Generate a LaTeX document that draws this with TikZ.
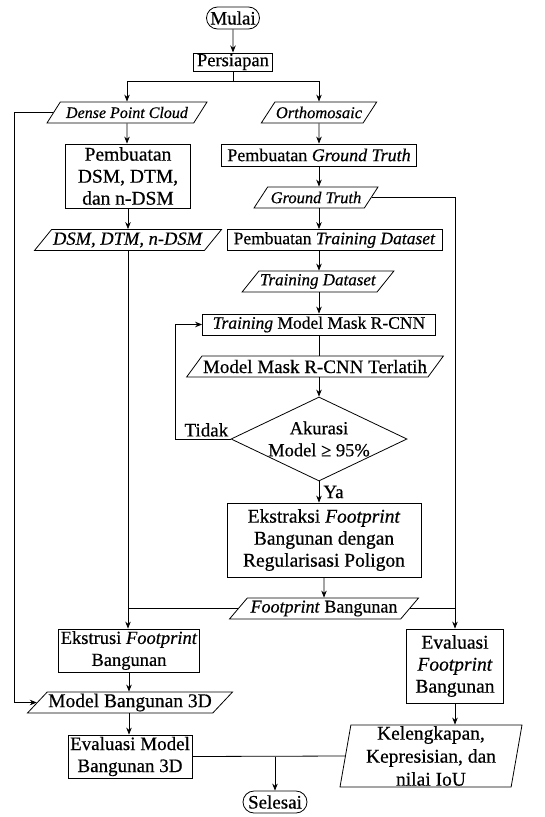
\documentclass[tikz,border=0pt]{standalone}
\usepackage{fontspec}
\setmainfont{Liberation Serif}[FakeBold=0.5]
\usetikzlibrary{arrows.meta, positioning, shapes.geometric, shapes.misc}

\begin{document}
\begin{tikzpicture}[
	x=1pt, y=-1pt,
	font=\fontsize{17}{21}\selectfont,
	line width=0.8pt,
	fs/.style = {font=\fontsize{#1}{22}\selectfont},
	box/.style = {draw, align=center, inner xsep=2pt, inner ysep=1pt, minimum height=21pt},
	io/.style = {draw, trapezium, trapezium left angle=45, trapezium right angle=135,
		trapezium stretches body, align=center, inner xsep=1pt, inner ysep=1pt, minimum height=21pt},
	term/.style = {draw, rounded rectangle, inner xsep=2pt, inner ysep=1pt, minimum height=22pt},
	cek/.style = {draw, diamond, aspect=2.1, inner sep=0pt, align=center,
		minimum width=176pt, minimum height=84pt},
	arr/.style = {-{Stealth[length=7pt,width=5.5pt]}}
     ]
		\useasboundingbox (0,0) rectangle (544,817);
		\coordinate (lx) at (14,0);
%
		\node[term, fs=19, minimum width=57pt] (mulai) at (233,18) {Mulai};
		\node[box, fs=18.5, minimum width=79pt, minimum height=17pt] (siap) at (233,62) {Persiapan};
		\node[io, fs=16, minimum width=160pt] (dpc) at (127,112.5) {\textit{Dense Point Cloud}};
		\node[io, fs=16.5, minimum width=101pt] (ortho) at (319,112.5) {\textit{Orthomosaic}};
%
		\node[box, fs=19.5, minimum width=125pt, minimum height=64pt] (dsm) at (128,176)
			{Pembuatan\\DSM, DTM,\\dan n-DSM};
		\node[io, fs=18.5, minimum width=187pt] (dsmio) at (128,240) {\textit{DSM, DTM, n-DSM}};
%
		\node[box, fs=18, minimum width=195pt, minimum height=22pt] (gtbox) at (319,155)
			{Pembuatan \textit{Ground Truth}};
		\node[io, fs=16.5, minimum width=124pt] (gt) at (316,197.5) {\textit{Ground Truth}};
		\node[box, fs=17.5, minimum width=215pt] (tdbox) at (334.5,240)
			{Pembuatan \textit{Training Dataset}};
		\node[io, minimum width=140pt] (td) at (318,281.5) {\textit{Training Dataset}};
		\node[box, fs=17.5, minimum width=233pt] (train) at (319,324.5)
			{\textit{Training} Model Mask R-CNN};
		\node[io, fs=19, minimum width=254pt] (model) at (315,366.5) {Model Mask R-CNN Terlatih};
		\node[cek, fs=18.5] (akurasi) at (319,439) {Akurasi\\Model ≥ 95\%};
		\node[box, fs=19.5, minimum width=194pt, minimum height=74pt] (ekstr) at (324,540)
			{Ekstraksi \textit{Footprint}\\Bangunan dengan\\Regularisasi Poligon};
		\node[io, fs=18, minimum width=189pt] (fp) at (324,608.5) {\textit{Footprint} Bangunan};
%
		\node[box, fs=18.5, minimum width=141pt, minimum height=43pt] (ekstru) at (129,650.5)
			{Ekstrusi \textit{Footprint}\\Bangunan};
		\node[box, fs=19.5, minimum width=97pt, minimum height=74pt] (evfp) at (455,666)
			{Evaluasi\\\textit{Footprint}\\Bangunan};
		\node[io, fs=19.5, minimum width=204pt] (m3d) at (130,702.5) {Model Bangunan 3D};
		\node[box, fs=19, minimum width=124pt, minimum height=43pt] (evm) at (130,756.5)
			{Evaluasi Model\\Bangunan 3D};
		\node[io, font=\fontsize{19.5}{23}\selectfont, trapezium left angle=80,
			trapezium right angle=100, minimum width=182pt, minimum height=62pt] (kel) at (431,756)
			{Kelengkapan,\\Kepresisian, dan\\nilai IoU};
		\node[term, fs=19, minimum width=68pt] (selesai) at (275,802) {Selesai};
%
		\draw[arr] (mulai) -- (siap);
		\draw[arr] (siap.south) -- ++(0,10) -| (dpc.north);
		\draw[arr] (siap.south) -- ++(0,10) -| (ortho.north);
%
		\draw[arr] (dpc) -- (dsm.north -| dpc.south);
		\draw[arr] (dsm) -- (dsmio);
		\draw[arr] (dpc.west) -- (dpc.west -| lx) |- (m3d.west);
%
		\draw[arr] (ortho) -- (gtbox);
		\draw[arr] (gtbox.south) -- (gtbox.south |- gt.north);
		\draw[arr] (gtbox.south |- gt.south) -- (gtbox.south |- tdbox.north);
		\draw[arr] (gtbox.south |- tdbox.south) -- (gtbox.south |- td.north);
		\draw[arr] (gtbox.south |- td.south) -- (train.north);
		\draw (train.south) -- (train.south |- model.north);
		\draw[arr] (train.south |- model.south) -- (akurasi.north);
		\draw[arr] (akurasi.west) -- ++(-55,0)
			node[pos=0, above left, inner sep=2pt, fs=19] {Tidak} |- (train.west);
		\draw[arr] (akurasi.south) -- (akurasi.south |- ekstr.north)
			node[midway, right, inner sep=4pt, fs=19] {Ya};
		\draw[arr] (ekstr) -- (fp);
%
		\draw[arr] (dsmio.south) -- (dsmio.south |- ekstru.north);
		\draw (fp.west) -- (fp.west -| dsmio.south);
		\draw[arr] (gt.east) -| (evfp.north);
		\draw (fp.east) -- (fp.east -| evfp.north);
%
		\draw[arr] (ekstru.south) -- (ekstru.south |- m3d.north);
		\draw[arr] (ekstru.south |- m3d.south) -- (ekstru.south |- evm.north);
		\draw[arr] (evfp.south) -- (evfp.south |- kel.north);
		\draw (evm.east) -- (kel.west);
		\draw[arr] (evm.east -| selesai.north) -- (selesai.north);
\end{tikzpicture}
\end{document}
